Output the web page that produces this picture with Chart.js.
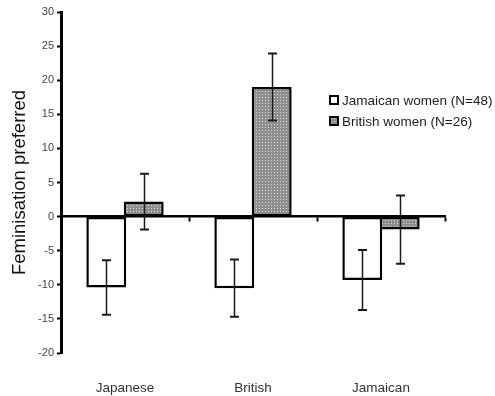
<!DOCTYPE html>
<html>
<head>
<meta charset="utf-8">
<script src="https://cdn.jsdelivr.net/npm/chart.js@4/dist/chart.umd.min.js"></script>
<style>
  html, body { margin: 0; padding: 0; background: #fff; }
  canvas { display: block; }
</style>
</head>
<body>
<canvas id="chart" width="495" height="396"></canvas>
<script>
// Categories (face type) and the two groups of raters
const categories = ['Japanese', 'British', 'Jamaican'];
const seriesNames = ['Jamaican women (N=48)', 'British women (N=26)'];

// Mean feminisation preferred, with error bar half-widths
const jamaicanWomen = [-10.4, -10.5, -9.3];
const jamaicanWomenErr = [4.0, 4.2, 4.4];
const britishWomen = [2.2, 19.0, -1.9];
const britishWomenErr = [4.1, 4.9, 5.0];

// Value axis: min, max, step
const yRange = [-20, 30, 5];

const FONT = "'Liberation Sans', Arial, Helvetica, sans-serif";

// Fine halftone fill for the grey bars
function makeHalftone() {
  const c = document.createElement('canvas');
  c.width = 3; c.height = 3;
  const g = c.getContext('2d');
  g.fillStyle = '#8e8e8e';
  g.fillRect(0, 0, 3, 3);
  g.fillStyle = '#dcdcdc';
  g.fillRect(1, 1, 1, 1);
  return g.createPattern(c, 'repeat');
}
const halftone = makeHalftone();

// Vertical error bars with caps, centred on each bar
const errorBars = {
  id: 'errorBars',
  afterDatasetsDraw(chart) {
    const ctx = chart.ctx;
    const y = chart.scales.y;
    chart.data.datasets.forEach((ds, i) => {
      const meta = chart.getDatasetMeta(i);
      meta.data.forEach((bar, j) => {
        const v = ds.data[j], e = ds.errors[j];
        const top = y.getPixelForValue(v + e);
        const bot = y.getPixelForValue(v - e);
        const x = Math.round(bar.x) + 0.5;
        ctx.save();
        ctx.strokeStyle = '#1a1a1a';
        ctx.lineWidth = 1.5;
        ctx.beginPath();
        ctx.moveTo(x, top); ctx.lineTo(x, bot);
        ctx.stroke();
        ctx.lineWidth = 2;
        ctx.beginPath();
        ctx.moveTo(x - 4.5, top); ctx.lineTo(x + 4.5, top);
        ctx.moveTo(x - 4.5, bot); ctx.lineTo(x + 4.5, bot);
        ctx.stroke();
        ctx.restore();
      });
    });
  }
};

// Legend drawn inside the plot, to the right of the British bars
const insideLegend = {
  id: 'insideLegend',
  afterDraw(chart) {
    const ctx = chart.ctx;
    const x = 329, y0 = 100, gap = 21, box = 10;
    ctx.save();
    ctx.font = '13.5px ' + FONT;
    ctx.textBaseline = 'middle';
    ctx.textAlign = 'left';
    chart.data.datasets.forEach((ds, i) => {
      const y = y0 + i * gap;
      ctx.fillStyle = ds.backgroundColor;
      ctx.fillRect(x, y - box / 2, box, box);
      ctx.strokeStyle = '#000';
      ctx.lineWidth = 2;
      ctx.strokeRect(x + 1, y - box / 2 + 1, box - 2, box - 2);
      ctx.fillStyle = '#222';
      ctx.fillText(ds.label, x + 13, y + 1);
    });
    ctx.restore();
  }
};

new Chart(document.getElementById('chart'), {
  type: 'bar',
  data: {
    labels: categories,
    datasets: [
      {
        label: seriesNames[0],
        data: jamaicanWomen,
        errors: jamaicanWomenErr,
        backgroundColor: '#ffffff',
        borderColor: '#000000',
        borderWidth: 2.5,
        borderSkipped: false
      },
      {
        label: seriesNames[1],
        data: britishWomen,
        errors: britishWomenErr,
        backgroundColor: halftone,
        borderColor: '#000000',
        borderWidth: 2.5,
        borderSkipped: false
      }
    ]
  },
  options: {
    responsive: false,
    animation: false,
    devicePixelRatio: 1,
    layout: { padding: { top: 12, right: 50, bottom: 0, left: 0 } },
    datasets: {
      // neighbouring bars overlap by one border width so they share an edge
      bar: { barPercentage: 1.066, categoryPercentage: 0.585 }
    },
    plugins: {
      legend: { display: false },
      tooltip: { enabled: false }
    },
    scales: {
      x: {
        type: 'category',
        position: 'bottom',
        offset: true,
        border: { display: false },
        grid: { display: false },
        ticks: {
          color: '#333',
          padding: 19,
          font: { family: FONT, size: 13.5 }
        },
        afterFit(scale) { scale.height = 43; }
      },
      // zero baseline with short marks between categories
      x2: {
        type: 'category',
        position: { y: 0 },
        offset: true,
        border: { display: true, color: '#000', width: 2.5 },
        grid: {
          offset: true,
          drawOnChartArea: false,
          drawTicks: true,
          tickLength: 4,
          color: '#000',
          tickColor: '#000',
          tickWidth: 2
        },
        ticks: { display: false }
      },
      y: {
        min: yRange[0],
        max: yRange[1],
        border: { display: true, color: '#000', width: 3 },
        grid: {
          drawOnChartArea: false,
          drawTicks: true,
          tickLength: 4,
          color: '#000',
          tickColor: '#000',
          tickWidth: 2
        },
        ticks: {
          stepSize: yRange[2],
          color: '#444',
          padding: 3,
          font: { family: FONT, size: 11 }
        },
        title: {
          display: true,
          text: 'Feminisation preferred',
          color: '#111',
          padding: { top: 9, bottom: 0 },
          font: { family: FONT, size: 18.5 }
        },
        afterFit(scale) { scale.width = 61; }
      }
    }
  },
  plugins: [errorBars, insideLegend]
});
</script>
</body>
</html>
